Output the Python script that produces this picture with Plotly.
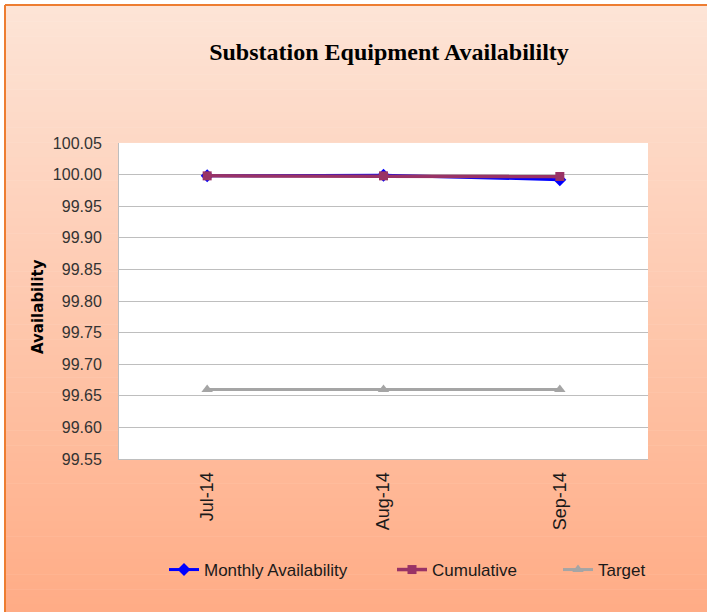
import plotly.graph_objects as go

# chart data
months = ['Jul-14', 'Aug-14', 'Sep-14']
monthly = [99.998, 99.999, 99.992]
cumulative = [99.998, 99.998, 99.997]
target = [99.66, 99.66, 99.66]

W, H = 707, 612
L, R, T, B = 119, 59, 143, 153
pw, ph = W - L - R, H - T - B

def px_x(p):
    return (p - L) / pw

def px_y(p):
    return (H - B - p) / ph

fig = go.Figure()

fig.add_trace(go.Scatter(x=months, y=monthly, name='Monthly Availability',
                         mode='lines+markers', legend='legend',
                         line=dict(color='#0000FF', width=3),
                         marker=dict(symbol='diamond', size=10, color='#0000FF')))
fig.add_trace(go.Scatter(x=months, y=cumulative, name='Cumulative',
                         mode='lines+markers', legend='legend2',
                         line=dict(color='#993366', width=3.5),
                         marker=dict(symbol='square', size=9, color='#993366')))
fig.add_trace(go.Scatter(x=months, y=target, name='Target',
                         mode='lines+markers', legend='legend3',
                         line=dict(color='#A5A5A5', width=3),
                         marker=dict(symbol='triangle-up', size=10, color='#A5A5A5')))

# background gradient drawn as thin bands
shapes = []
top_c = (253, 228, 214)
bot_c = (255, 172, 134)
y0, y1 = 6, H
n = 80
for i in range(n):
    a = y0 + (y1 - y0) * i / n
    b = y0 + (y1 - y0) * (i + 1) / n + 0.5
    f = i / (n - 1)
    c = tuple(round(top_c[k] + (bot_c[k] - top_c[k]) * f) for k in range(3))
    shapes.append(dict(type='rect', xref='paper', yref='paper', layer='below',
                       x0=px_x(6), x1=px_x(W + 2), y0=px_y(b), y1=px_y(a),
                       line=dict(width=0), fillcolor='rgb(%d,%d,%d)' % c))
# white plot area
shapes.append(dict(type='rect', xref='paper', yref='paper', layer='below',
                   x0=0, x1=1, y0=0, y1=1, line=dict(width=0), fillcolor='white'))
# orange frame
shapes.append(dict(type='line', xref='paper', yref='paper',
                   x0=px_x(5), x1=px_x(W + 2), y0=px_y(5), y1=px_y(5),
                   line=dict(color='#ED7D31', width=2)))
shapes.append(dict(type='line', xref='paper', yref='paper',
                   x0=px_x(5), x1=px_x(5), y0=px_y(5), y1=px_y(H + 2),
                   line=dict(color='#ED7D31', width=2)))

leg_font = dict(family='Liberation Sans', size=17, color='#1a1a1a')

def leg(x_px):
    return dict(orientation='h', x=px_x(x_px), xanchor='left',
                y=px_y(570), yanchor='middle', font=leg_font,
                bgcolor='rgba(0,0,0,0)')

fig.update_layout(
    width=W, height=H,
    margin=dict(l=L, r=R, t=T, b=B),
    paper_bgcolor='white',
    plot_bgcolor='rgba(0,0,0,0)',
    shapes=shapes,
    title=dict(text='<b>Substation Equipment Availabililty</b>',
               font=dict(family='Liberation Serif', size=24, color='#000000'),
               x=px_x(389), xref='paper', xanchor='center',
               y=1 - 52 / H, yanchor='middle'),
    showlegend=True,
    legend=leg(164),
    legend2=leg(392),
    legend3=leg(558),
    annotations=[dict(text='<b>Availability</b>', textangle=-90,
                      xref='paper', yref='paper', x=px_x(38), y=px_y(307),
                      xanchor='center', yanchor='middle', showarrow=False,
                      font=dict(family='DejaVu Sans', size=15, color='#000000'))],
)

fig.update_xaxes(
    type='category', range=[-0.5, 2.5],
    showgrid=False, showline=True, linecolor='#BEBEBE', linewidth=1,
    tickangle=-90, ticks='', ticklabelstandoff=5,
    tickfont=dict(family='Liberation Sans', size=18, color='#1a1a1a'),
)
fig.update_yaxes(
    range=[99.55, 100.05], dtick=0.05, tick0=99.55, tickformat='.2f',
    showgrid=True, gridcolor='#BEBEBE', gridwidth=1,
    showline=True, linecolor='#BEBEBE', linewidth=1, mirror=False,
    zeroline=False, ticks='', ticklabelstandoff=13,
    tickfont=dict(family='Liberation Sans', size=16, color='#333333'),
)

fig.write_html('out.html', config={'displayModeBar': False},
               post_script="document.body.style.margin='0';")
